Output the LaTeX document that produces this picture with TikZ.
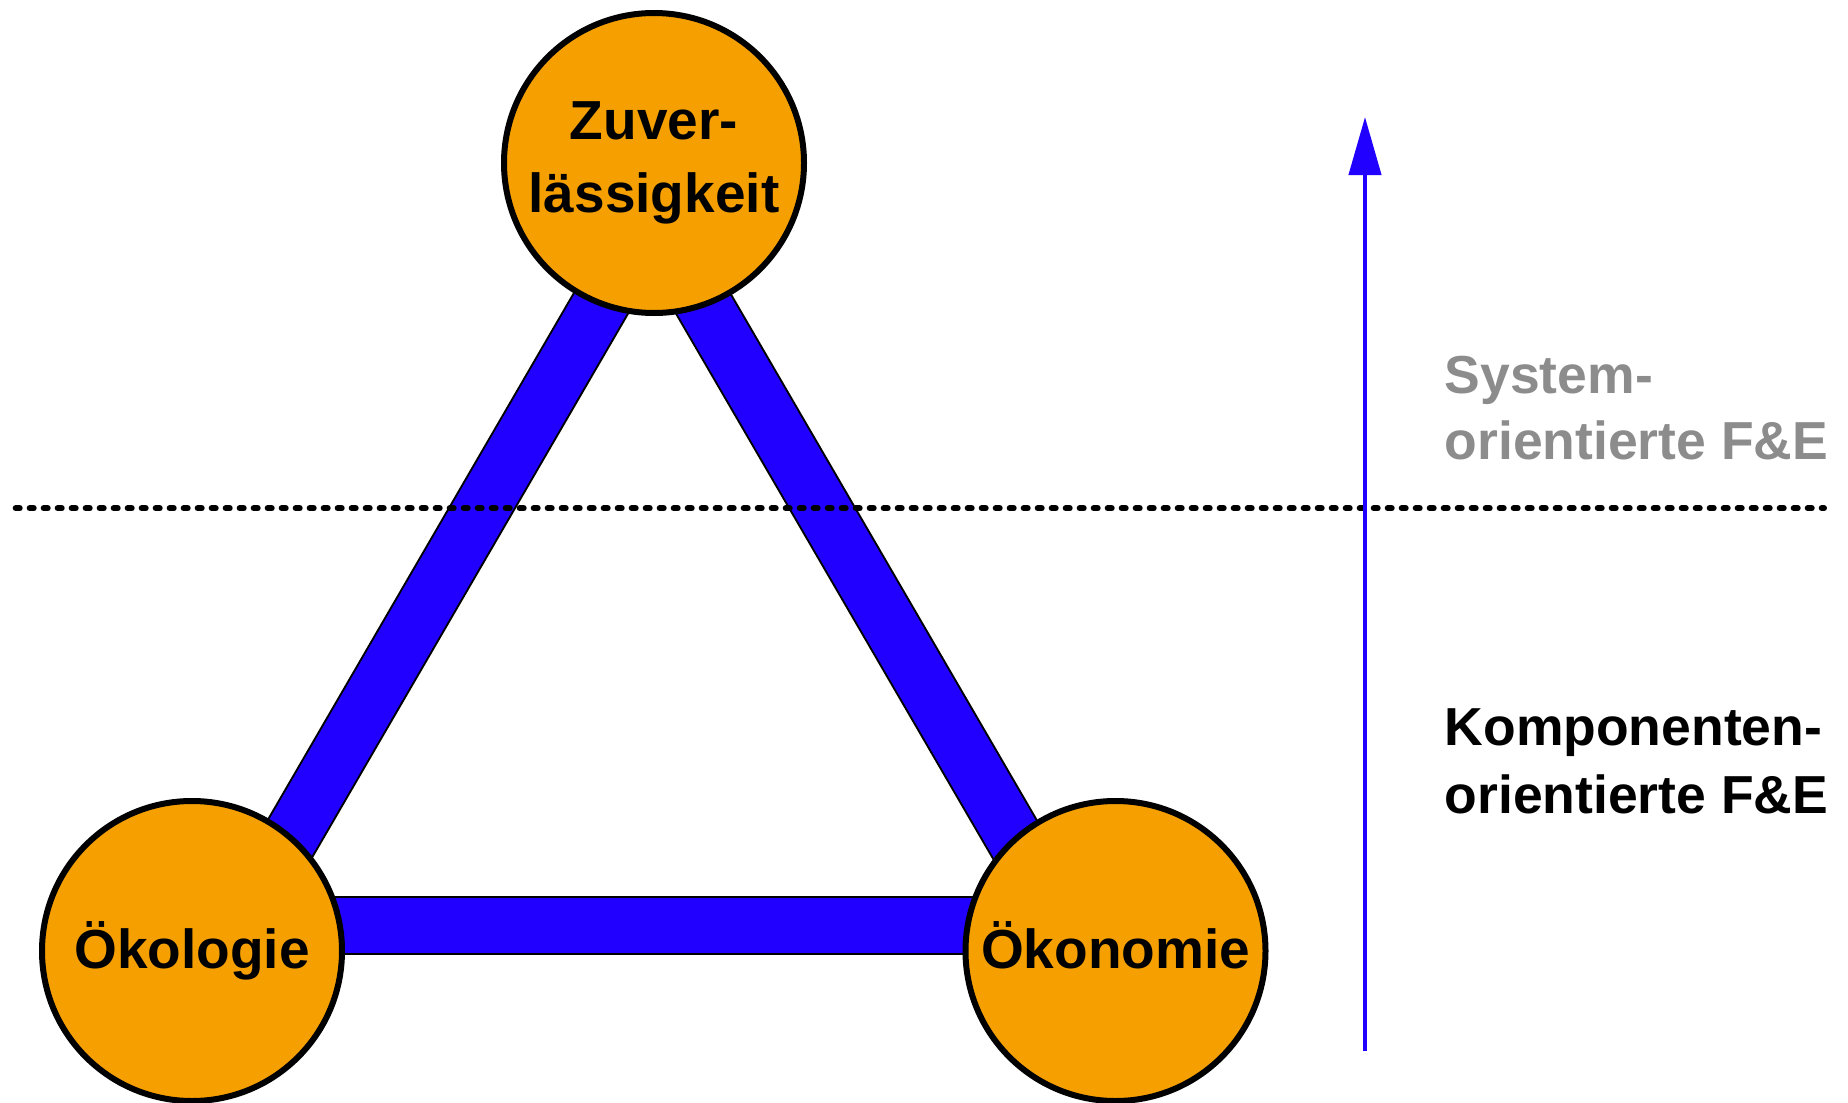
\documentclass[tikz,border=0pt]{standalone}
\usepackage{fontspec}
\setmainfont{Liberation Sans}
\usetikzlibrary{arrows.meta}
\definecolor{disc}{HTML}{F5A000}
\definecolor{barblue}{HTML}{2200FF}
\definecolor{sysgray}{HTML}{8C8C8C}

\begin{document}
\begin{tikzpicture}[x=1pt,y=-1pt,
  pillar/.style={circle, draw=black, line width=6pt, fill=disc,
    minimum size=300pt, inner sep=0pt, align=center,
    font=\fontsize{55}{73.4}\selectfont\bfseries},
  barout/.style={line width=59pt, black},
  barin/.style={line width=55pt, barblue},
  dotline/.style={line width=6pt, line cap=round, dash pattern=on 4pt off 10pt},
  levelarrow/.style={line width=4.3pt, barblue, -{Triangle[length=58pt,width=32pt]}},
  levelnote/.style={anchor=base west, align=left, inner sep=0pt}]
\useasboundingbox (0,0) rectangle (1848,1103);

% corners of the triangle of bars (hidden under the discs)
\coordinate (vz) at (652,215.5);
\coordinate (vl) at (239.5,925.5);
\coordinate (vr) at (1065,925.5);

% bars: black rims first, blue cores on top
\draw[barout] (vl) -- (vz);
\draw[barout] (vz) -- (vr);
\draw[barout] (vl) -- (vr);
\draw[barin] (vl) -- (vz);
\draw[barin] (vz) -- (vr);
\draw[barin] (vl) -- (vr);

% boundary between the two levels
\coordinate (dl) at (15.7,508.3);
\coordinate (dr) at (1824,508.3);
\draw[dotline] (dl) -- (dr);

% the three discs
\node[pillar] (zuv) at (654,163) {Zuver-\\lässigkeit};
\node[pillar] (oko) at (192,951) {Ökologie};
\node[pillar] (okn) at (1115.5,951) {Ökonomie\vphantom{g}};

% level arrow
\coordinate (ab) at (1365,1051);
\coordinate (at) at (1365,117);
\draw[levelarrow] (ab) -- (at);

% level captions (anchored at the baseline of their last line)
\node[levelnote, text=sysgray, font=\fontsize{53.5}{65.7}\selectfont\bfseries]
  (sys) at (1444.5,459) {System-\\orientierte F\&E};
\node[levelnote, font=\fontsize{53.5}{68.3}\selectfont\bfseries]
  (kom) at (1444.5,813.3) {Komponenten-\\orientierte F\&E};
\end{tikzpicture}
\end{document}
